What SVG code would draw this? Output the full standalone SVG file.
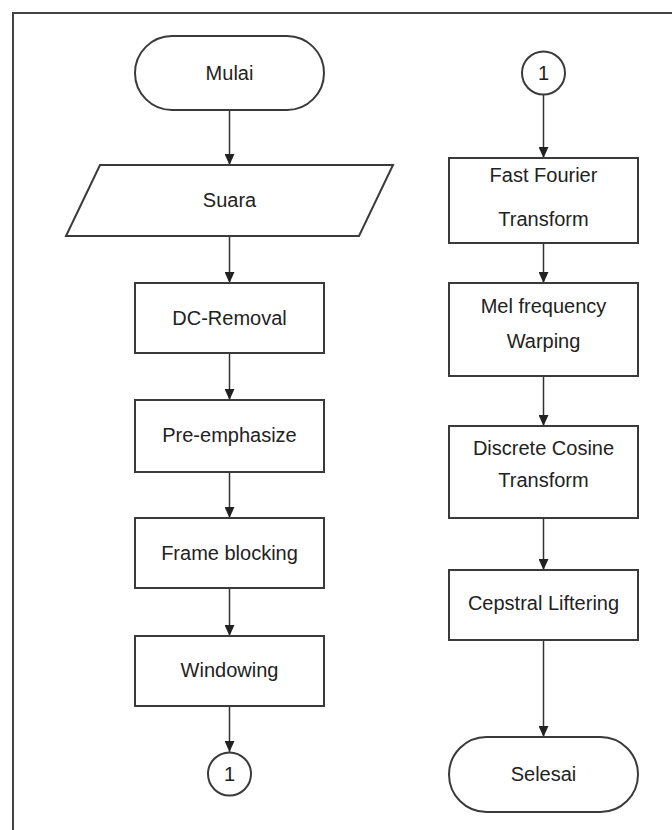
<svg xmlns="http://www.w3.org/2000/svg" width="672" height="830" viewBox="0 0 672 830">
<defs>
<style>
.shape{fill:#ffffff;stroke:#3a3a3a;stroke-width:2}
.lbl{font-family:"Liberation Sans",Arial,sans-serif;font-size:20px;fill:#222;text-anchor:middle}
.conn{stroke:#333;stroke-width:1.5;fill:none;marker-end:url(#arr)}
</style>
<marker id="arr" viewBox="0 0 11 10" refX="11" refY="5" markerWidth="11" markerHeight="10" markerUnits="userSpaceOnUse" orient="auto">
<path d="M0,0 L11,5 L0,10 z" fill="#222"/>
</marker>
</defs>
<rect width="672" height="830" fill="#fff"/>
<g id="frame"><path d="M13,830 L13,13 L672,13" fill="none" stroke="#444" stroke-width="2"/></g>
<g id="connectors">
<line class="conn" x1="229.5" y1="110" x2="229.5" y2="165"/>
<line class="conn" x1="229.5" y1="236" x2="229.5" y2="283"/>
<line class="conn" x1="229.5" y1="353" x2="229.5" y2="400"/>
<line class="conn" x1="229.5" y1="472" x2="229.5" y2="518"/>
<line class="conn" x1="229.5" y1="588" x2="229.5" y2="636"/>
<line class="conn" x1="229.5" y1="706" x2="229.5" y2="752"/>
<line class="conn" x1="543.5" y1="95" x2="543.5" y2="158"/>
<line class="conn" x1="543.5" y1="243" x2="543.5" y2="283"/>
<line class="conn" x1="543.5" y1="376" x2="543.5" y2="426"/>
<line class="conn" x1="543.5" y1="518" x2="543.5" y2="570"/>
<line class="conn" x1="543.5" y1="640" x2="543.5" y2="737"/>
</g>
<g id="mulai"><rect class="shape" x="135" y="36" width="189" height="74" rx="37"/><text class="lbl" x="229.5" y="80">Mulai</text></g>
<g id="suara"><polygon class="shape" points="100,165 393,165 359,236 66,236"/><text class="lbl" x="229.5" y="207">Suara</text></g>
<g id="dc"><rect class="shape" x="135" y="283" width="189" height="70"/><text class="lbl" x="229.5" y="325">DC-Removal</text></g>
<g id="pre"><rect class="shape" x="135" y="400" width="189" height="72"/><text class="lbl" x="229.5" y="442">Pre-emphasize</text></g>
<g id="frameblock"><rect class="shape" x="135" y="518" width="189" height="70"/><text class="lbl" x="229.5" y="560">Frame blocking</text></g>
<g id="windowing"><rect class="shape" x="135" y="636" width="189" height="70"/><text class="lbl" x="229.5" y="677">Windowing</text></g>
<g id="con1b"><circle class="shape" cx="229.5" cy="774" r="21.5"/><text class="lbl" x="229.5" y="781">1</text></g>
<g id="con1a"><circle class="shape" cx="543.5" cy="73" r="21.5"/><text class="lbl" x="543.5" y="80">1</text></g>
<g id="fft"><rect class="shape" x="449" y="158" width="189" height="85"/><text class="lbl" x="543.5" y="182">Fast Fourier</text><text class="lbl" x="543.5" y="226">Transform</text></g>
<g id="mel"><rect class="shape" x="449" y="283" width="189" height="93"/><text class="lbl" x="543.5" y="313">Mel frequency</text><text class="lbl" x="543.5" y="348">Warping</text></g>
<g id="dct"><rect class="shape" x="449" y="426" width="189" height="92"/><text class="lbl" x="543.5" y="455">Discrete Cosine</text><text class="lbl" x="543.5" y="487">Transform</text></g>
<g id="cep"><rect class="shape" x="449" y="570" width="189" height="70"/><text class="lbl" x="543.5" y="610">Cepstral Liftering</text></g>
<g id="selesai"><rect class="shape" x="449" y="737" width="189" height="75" rx="37.5"/><text class="lbl" x="543.5" y="781">Selesai</text></g>
</svg>
